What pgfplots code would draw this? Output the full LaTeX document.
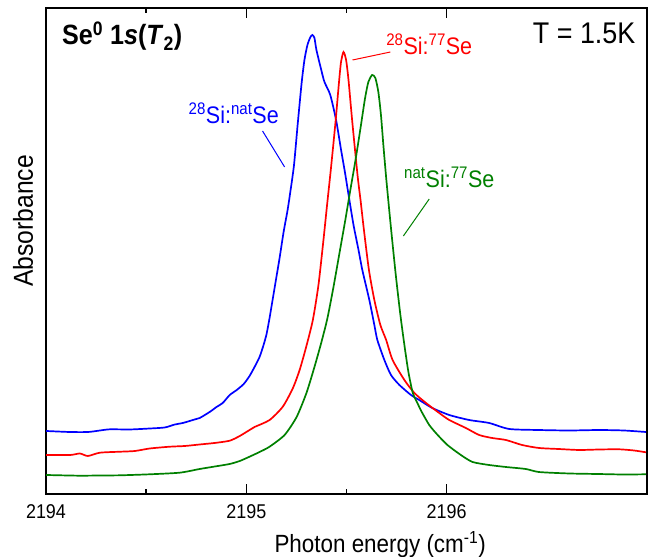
\documentclass[border=0pt]{standalone}
\usepackage{pgfplots}
\pgfplotsset{compat=1.18}
\usepackage{fontspec}
\setmainfont{Liberation Sans}[FakeStretch=0.9]

\definecolor{sBlue}{RGB}{0,0,255}
\definecolor{sRed}{RGB}{255,0,0}
\definecolor{sGreen}{RGB}{0,128,0}

\begin{document}
\begin{tikzpicture}
\begin{axis}[
  name=main,
  scale only axis,
  width=601bp, height=486bp,
  xmin=2194, xmax=2197,
  ymin=-0.426, ymax=8.574,
  xtick={2194,2195,2196},
  xticklabels={2194,2195,2196},
  minor x tick num=1,
  ytick=\empty,
  minor ytick={0,1,...,8},
  major tick length=10bp,
  minor tick length=5bp,
  tick align=inside,
  axis line style={line width=2.2bp},
  every tick/.style={black, line width=1.6bp},
  every minor tick/.style={black, line width=1.6bp},
  xticklabel style={font=\fontsize{20}{24}\selectfont, yshift=-7bp},
  xlabel={Photon energy (cm\textsuperscript{-1})},
  xlabel style={font=\fontsize{25}{30}\selectfont, at={(axis description cs:0.556,-0.105)}, anchor=center},
  ylabel={Absorbance},
  ylabel style={font=\fontsize{27.5}{32}\selectfont, at={(axis description cs:-0.038,0.562)}, anchor=center},
  every axis plot/.append style={line width=1.7bp, smooth, tension=0.4},
  clip=true,
]

% 28Si:natSe
\addplot[sBlue] coordinates {
(2194.000,0.741) (2194.120,0.722) (2194.209,0.722) (2194.269,0.750) (2194.319,0.772)
(2194.419,0.769) (2194.518,0.787) (2194.593,0.806) (2194.643,0.861) (2194.683,0.889)
(2194.742,0.954) (2194.767,0.981) (2194.817,1.093) (2194.851,1.185) (2194.882,1.259)
(2194.917,1.407) (2194.952,1.500) (2194.987,1.611) (2195.016,1.759) (2195.041,1.926)
(2195.066,2.111) (2195.086,2.333) (2195.101,2.537) (2195.116,2.833) (2195.131,3.167)
(2195.146,3.500) (2195.166,3.944) (2195.186,4.426) (2195.206,4.833) (2195.221,5.204)
(2195.238,5.667) (2195.256,6.407) (2195.276,7.185) (2195.290,7.611) (2195.305,7.889)
(2195.320,8.037) (2195.330,8.074) (2195.340,8.019) (2195.350,7.796) (2195.374,7.426)
(2195.390,7.204) (2195.419,6.963) (2195.448,6.500) (2195.473,5.944) (2195.492,5.537)
(2195.512,5.074) (2195.535,4.556) (2195.560,4.093) (2195.579,3.722) (2195.614,3.167)
(2195.639,2.704) (2195.654,2.426) (2195.689,2.056) (2195.722,1.778) (2195.764,1.593)
(2195.822,1.407) (2195.863,1.315) (2195.928,1.167) (2196.013,1.037) (2196.113,0.944)
(2196.212,0.889) (2196.312,0.778) (2196.461,0.759) (2196.611,0.750) (2196.760,0.759)
(2196.885,0.750) (2196.995,0.722)
};

% 28Si:77Se
\addplot[sRed] coordinates {
(2194.000,0.296) (2194.120,0.296) (2194.169,0.324) (2194.209,0.278) (2194.269,0.339)
(2194.369,0.357) (2194.443,0.370) (2194.518,0.417) (2194.618,0.450) (2194.693,0.463)
(2194.767,0.491) (2194.842,0.519) (2194.917,0.561) (2194.967,0.648) (2195.016,0.759)
(2195.041,0.815) (2195.116,0.944) (2195.182,1.191) (2195.232,1.531) (2195.266,1.870)
(2195.299,2.302) (2195.332,2.796) (2195.360,3.444) (2195.385,4.278) (2195.403,4.926)
(2195.420,5.519) (2195.435,6.074) (2195.447,6.537) (2195.460,7.093) (2195.472,7.556)
(2195.485,7.759) (2195.498,7.611) (2195.510,7.241) (2195.528,6.500) (2195.555,5.481)
(2195.570,5.019) (2195.587,4.463) (2195.612,3.722) (2195.639,3.167) (2195.669,2.704)
(2195.698,2.426) (2195.730,2.056) (2195.789,1.685) (2195.839,1.444) (2195.897,1.259)
(2195.963,1.074) (2196.013,0.944) (2196.096,0.796) (2196.162,0.667) (2196.227,0.611)
(2196.296,0.574) (2196.377,0.481) (2196.461,0.426) (2196.561,0.407) (2196.661,0.389)
(2196.760,0.398) (2196.860,0.402) (2196.935,0.380) (2196.995,0.346)
};

% natSi:77Se
\addplot[sGreen] coordinates {
(2194.000,-0.074) (2194.169,-0.087) (2194.269,-0.083) (2194.369,-0.080) (2194.518,-0.061)
(2194.668,-0.031) (2194.767,0.037) (2194.842,0.083) (2194.917,0.130) (2194.967,0.185)
(2195.016,0.265) (2195.066,0.352) (2195.116,0.450) (2195.191,0.667) (2195.251,1.000)
(2195.300,1.444) (2195.340,1.926) (2195.375,2.389) (2195.405,2.833) (2195.435,3.407)
(2195.465,4.037) (2195.495,4.667) (2195.520,5.222) (2195.545,5.759) (2195.570,6.352)
(2195.592,6.889) (2195.609,7.204) (2195.628,7.333) (2195.644,7.278) (2195.659,7.019)
(2195.672,6.593) (2195.684,6.037) (2195.699,5.389) (2195.722,4.500) (2195.746,3.630)
(2195.769,2.889) (2195.789,2.333) (2195.809,1.833) (2195.831,1.444) (2195.854,1.259)
(2195.873,1.111) (2195.913,0.852) (2195.955,0.667) (2196.004,0.481) (2196.071,0.296)
(2196.129,0.167) (2196.212,0.111) (2196.296,0.074) (2196.395,0.037) (2196.461,-0.019)
(2196.611,-0.046) (2196.760,-0.056) (2196.885,-0.065) (2196.995,-0.061)
};

% leader lines
\draw[sBlue, line width=1bp] (axis cs:2195.081,6.296) -- (axis cs:2195.191,5.630);
\draw[sRed, line width=1bp] (axis cs:2195.530,7.611) -- (axis cs:2195.719,7.759);
\draw[sGreen, line width=1bp] (axis cs:2195.913,5.037) -- (axis cs:2195.784,4.352);

% labels
\node[sBlue, anchor=base, font=\fontsize{24}{28}\selectfont, inner sep=0pt]
  at (axis cs:2194.937,6.444) {\textsuperscript{28}Si:\textsuperscript{nat}Se};
\node[sRed, anchor=base, font=\fontsize{24}{28}\selectfont, inner sep=0pt]
  at (axis cs:2195.913,7.704) {\textsuperscript{28}Si:\textsuperscript{77}Se};
\node[sGreen, anchor=base, font=\fontsize{24}{28}\selectfont, inner sep=0pt]
  at (axis cs:2196.013,5.241) {\textsuperscript{nat}Si:\textsuperscript{77}Se};

\node[anchor=base west, font=\fontsize{28}{32}\selectfont\bfseries, inner sep=0pt]
  at (axis cs:2194.080,7.889) {Se\textsuperscript{0} 1\textit{s}(\textit{T}\textsubscript{2})};
\node[anchor=base east, font=\fontsize{30}{34}\selectfont, inner sep=0pt]
  at (axis cs:2196.943,7.920) {T = 1.5K};
\end{axis}
\pgfresetboundingbox
\path[use as bounding box] ([xshift=-46bp,yshift=-63bp]main.south west) rectangle ([xshift=9bp,yshift=8bp]main.north east);
\end{tikzpicture}
\end{document}
